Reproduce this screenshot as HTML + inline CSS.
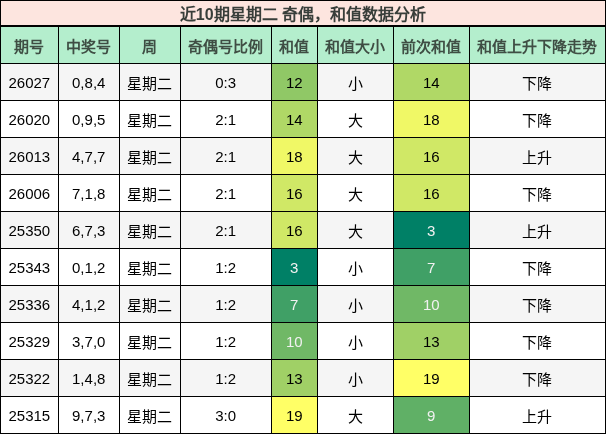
<!DOCTYPE html>
<html lang="zh-CN">
<head>
<meta charset="utf-8">
<title>近10期星期二 奇偶，和值数据分析</title>
<style>
html,body{margin:0;padding:0;background:#fff;}
body{width:606px;height:434px;overflow:hidden;font-family:"Liberation Sans",sans-serif;}
table{border-collapse:collapse;font-size:15px;color:#000;will-change:transform;}
td,th{border:1px solid #000;padding:0.5em;text-align:center;white-space:nowrap;}
tr.t th{font-size:16px;font-weight:bold;padding:0 8px;border-bottom:2px solid #000;background:#fde5df;color:#383e3a;}
tr.h th{font-weight:bold;background:#b4eecd;color:#3f4e44;}
tr.t{height:25.5px;}
tr.h{height:37.5px;}
tr.o,tr.e{height:37px;}
tr.o td{background:#f5f5f5;}
tr.e td{background:#fff;}
</style>
</head>
<body>
<table>
<colgroup><col style="width:57.7px"><col style="width:61px"><col style="width:61px"><col style="width:91px"><col style="width:46px"><col style="width:76px"><col style="width:76px"><col style="width:136px"></colgroup>
<tr class="t"><th colspan="8">近10期星期二 奇偶，和值数据分析</th></tr>
<tr class="h"><th>期号</th><th>中奖号</th><th>周</th><th>奇偶号比例</th><th>和值</th><th>和值大小</th><th>前次和值</th><th>和值上升下降走势</th></tr>
<tr class="o"><td>26027</td><td>0,8,4</td><td>星期二</td><td>0:3</td><td style="background-color:#90c866;color:#000000">12</td><td>小</td><td style="background-color:#b0d866;color:#000000">14</td><td>下降</td></tr>
<tr class="e"><td>26020</td><td>0,9,5</td><td>星期二</td><td>2:1</td><td style="background-color:#b0d866;color:#000000">14</td><td>大</td><td style="background-color:#f0f866;color:#000000">18</td><td>下降</td></tr>
<tr class="o"><td>26013</td><td>4,7,7</td><td>星期二</td><td>2:1</td><td style="background-color:#f0f866;color:#000000">18</td><td>大</td><td style="background-color:#d0e866;color:#000000">16</td><td>上升</td></tr>
<tr class="e"><td>26006</td><td>7,1,8</td><td>星期二</td><td>2:1</td><td style="background-color:#d0e866;color:#000000">16</td><td>大</td><td style="background-color:#d0e866;color:#000000">16</td><td>下降</td></tr>
<tr class="o"><td>25350</td><td>6,7,3</td><td>星期二</td><td>2:1</td><td style="background-color:#d0e866;color:#000000">16</td><td>大</td><td style="background-color:#008066;color:#f1f1f1">3</td><td>上升</td></tr>
<tr class="e"><td>25343</td><td>0,1,2</td><td>星期二</td><td>1:2</td><td style="background-color:#008066;color:#f1f1f1">3</td><td>小</td><td style="background-color:#40a066;color:#f1f1f1">7</td><td>下降</td></tr>
<tr class="o"><td>25336</td><td>4,1,2</td><td>星期二</td><td>1:2</td><td style="background-color:#40a066;color:#f1f1f1">7</td><td>小</td><td style="background-color:#70b866;color:#f1f1f1">10</td><td>下降</td></tr>
<tr class="e"><td>25329</td><td>3,7,0</td><td>星期二</td><td>1:2</td><td style="background-color:#70b866;color:#f1f1f1">10</td><td>小</td><td style="background-color:#a0d066;color:#000000">13</td><td>下降</td></tr>
<tr class="o"><td>25322</td><td>1,4,8</td><td>星期二</td><td>1:2</td><td style="background-color:#a0d066;color:#000000">13</td><td>小</td><td style="background-color:#ffff66;color:#000000">19</td><td>下降</td></tr>
<tr class="e"><td>25315</td><td>9,7,3</td><td>星期二</td><td>3:0</td><td style="background-color:#ffff66;color:#000000">19</td><td>大</td><td style="background-color:#60b066;color:#f1f1f1">9</td><td>上升</td></tr>
</table>
</body>
</html>
